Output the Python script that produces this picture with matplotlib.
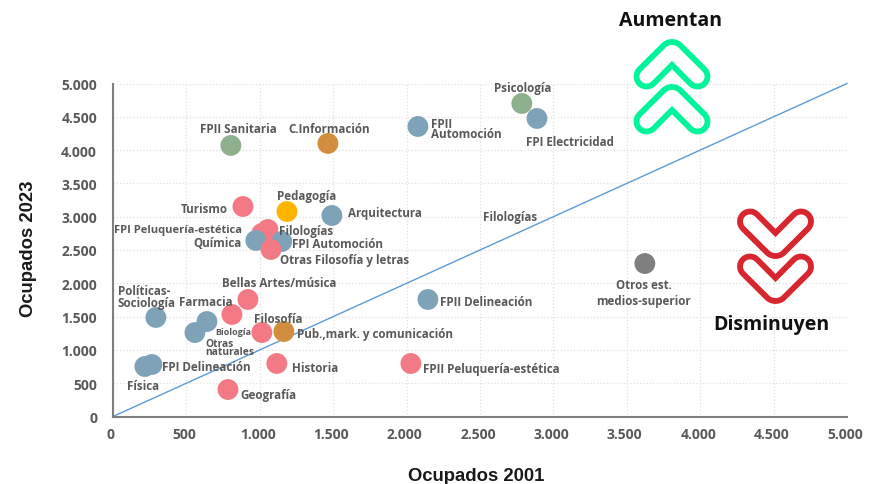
import numpy as np
import matplotlib
matplotlib.use('Agg')
import matplotlib.pyplot as plt
from matplotlib.patches import Polygon
from matplotlib.ticker import FuncFormatter
from matplotlib.transforms import ScaledTranslation

plt.rcParams['font.family'] = ['Open Sans', 'DejaVu Sans']

blue = '#7ea3b8'
pink = '#f37a84'
green = '#8fb08c'
brown = '#d38d3f'
yellow = '#ffb400'
grey = '#7f7f7f'
colors = {'b': blue, 'p': pink, 'g': green, 'o': brown, 'y': yellow, 'x': grey}

names = ['Psicología', 'FPI Electricidad', 'FPII\nAutomoción', 'C.Información', 'FPII Sanitaria',
         'Turismo', 'Pedagogía', 'Arquitectura', 'Filologías', 'FPI Peluquería-estética',
         'Química', 'FPI Automoción', 'Otras Filosofía y letras', 'Otros est.\nmedios-superior',
         'Bellas Artes/música', 'FPII Delineación', 'Farmacia', 'Políticas-\nSociología',
         'Biología', 'Otras\nnaturales', 'Filosofía', 'Pub.,mark. y comunicación',
         'Física', 'FPI Delineación', 'Historia', 'FPII Peluquería-estética', 'Geografía']
ocupados_2001 = [2785, 2888, 2077, 1464, 803, 885, 1185, 1491, 1055, 1014, 973, 1150, 1076, 3623,
                 919, 2145, 810, 292, 640, 558, 1014, 1164, 217, 265, 1116, 2029, 783]
ocupados_2023 = [4700, 4475, 4355, 4100, 4070, 3153, 3078, 3018, 2808, 2748, 2643, 2628, 2508, 2297,
                 1757, 1757, 1532, 1487, 1426, 1261, 1261, 1276, 751, 781, 796, 796, 405]
grupo = ['g', 'b', 'b', 'o', 'g', 'p', 'y', 'b', 'p', 'p', 'b', 'b', 'p', 'x',
         'p', 'b', 'p', 'b', 'b', 'b', 'p', 'o', 'b', 'b', 'p', 'p', 'p']
# label offset from the point in pixels, and alignment
label_dx = [1, -11, 13, 1, 7, -15, 20, 16, 11, -20, -14, 10, 9, -1,
            31, 12, 1, -38, 26, 10, 16, 13, -2, 10, 15, 12, 12]
label_dy = [18, -21, 0, 17, 19, 0, 18, 5, 1, 6, 0, 0, -8, -27,
            19, 0, 15, 23, -8, -13, 16, 0, -17, 0, -2, -3, -3]
label_ha = ['center', 'left', 'left', 'center', 'center', 'right', 'center', 'left', 'left', 'right',
            'right', 'left', 'left', 'center', 'center', 'left', 'right', 'left', 'center', 'left',
            'center', 'left', 'center', 'left', 'left', 'left', 'left']
label_size = [8.4] * len(names)
label_size[9] = 8.05
label_size[18] = 6.5
label_size[19] = 7.4
label_gap = [0.9] * len(names)
label_gap[2] = 0.75
label_gap[13] = 1.28
label_gap[19] = 0.7

ticks = [0, 500, 1000, 1500, 2000, 2500, 3000, 3500, 4000, 4500, 5000]
diagonal = [0, 5000]

fig = plt.figure(figsize=(8.7, 4.85), dpi=100)
ax = fig.add_axes([113 / 870, 67.5 / 485, 734 / 870, 333 / 485])
ax.set_xlim(0, 5000)
ax.set_ylim(0, 5000)
ax.set_xticks(ticks)
ax.set_yticks(ticks)
fmt = FuncFormatter(lambda v, p: f'{int(v):,}'.replace(',', '.'))
ax.xaxis.set_major_formatter(fmt)
ax.yaxis.set_major_formatter(fmt)
ax.grid(True, color='#e0e0e0', linestyle=':', linewidth=0.9)
ax.set_axisbelow(True)
for s in ['top', 'right']:
    ax.spines[s].set_visible(False)
for s in ['left', 'bottom']:
    ax.spines[s].set_color('#7f7f7f')
    ax.spines[s].set_linewidth(1.5)
ax.tick_params(axis='x', length=0, pad=7.5, labelsize=10, labelcolor='#595959')
ax.tick_params(axis='y', length=0, pad=11.5, labelsize=10, labelcolor='#595959')
for t in ax.get_xticklabels() + ax.get_yticklabels():
    t.set_fontweight('bold')
for t in ax.get_xticklabels():
    t.set_transform(t.get_transform() + ScaledTranslation(-2 / 100, 0, fig.dpi_scale_trans))

ax.plot(diagonal, diagonal, color='#5b9bd5', linewidth=1, zorder=2, clip_on=False)
ax.scatter(ocupados_2001, ocupados_2023, s=225, c=[colors[g] for g in grupo], linewidths=0, zorder=3)

for i, n in enumerate(names):
    ax.annotate(n, (ocupados_2001[i], ocupados_2023[i]),
                xytext=(label_dx[i] * 0.72, (label_dy[i] - 2) * 0.72),
                textcoords='offset points', ha=label_ha[i], va='center', fontsize=label_size[i],
                fontweight='bold', color='#595959', linespacing=label_gap[i], zorder=4)
ax.text(2704, 3003, 'Filologías', ha='center', va='center', fontsize=8.4, fontweight='bold', color='#595959')

fig.text(476 / 870, 1 - 477 / 485, 'Ocupados 2001', ha='center', va='center', fontsize=13.3,
         fontweight='bold', color='#1a1a1a', family='Liberation Sans')
fig.text(29 / 870, 1 - 249 / 485, 'Ocupados 2023', ha='center', va='center', rotation=90, fontsize=13.3,
         fontweight='bold', color='#1a1a1a', family='Liberation Sans')

# overlay in pixels for the chevrons and the two captions
ov = fig.add_axes([0, 0, 1, 1], facecolor='none')
ov.set_xlim(0, 870)
ov.set_ylim(485, 0)
ov.axis('off')


def arc(cx, cy, r, a0, a1):
    t = np.radians(np.linspace(a0, a1, 16))
    return np.column_stack([cx + r * np.cos(t), cy + r * np.sin(t)])


def chevron(cx, top, up, color):
    # right half of the outline, measured from the top of the glyph
    half = np.vstack([[[0, 26]], arc(25.5, 37.5, 10, 135, -45), arc(0, 15, 12, -45, -90)])
    left = half[::-1][1:-1] * [-1, 1]
    pts = np.vstack([half, left])
    if not up:
        pts[:, 1] = 50 - pts[:, 1]
    pts = pts + [cx, top]
    ov.add_patch(Polygon(pts, closed=True, fill=False, edgecolor=color, linewidth=4.2,
                         joinstyle='miter', zorder=5))


chevron(672, 40, True, '#00f59b')
chevron(672, 85, True, '#00f59b')
chevron(775.5, 210, False, '#d8262e')
chevron(775.5, 255, False, '#d8262e')

ov.text(671, 21, 'Aumentan', ha='center', va='center', fontsize=14, fontweight='bold', color='#111111')
ov.text(771, 325, 'Disminuyen', ha='center', va='center', fontsize=14, fontweight='bold', color='#111111')

fig.savefig('out.png', dpi=100)
